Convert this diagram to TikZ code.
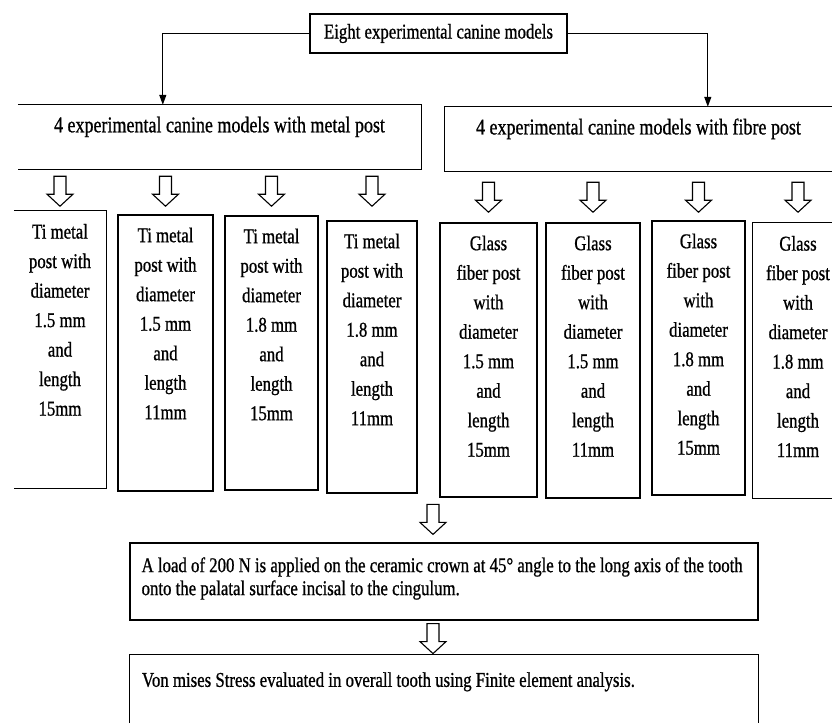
\documentclass[tikz,border=0pt]{standalone}
\usepackage{fontspec}
\setmainfont{Liberation Serif}[FakeStretch=0.8, FakeBold=0.8]
\usetikzlibrary{arrows.meta,calc}
\newcommand{\boxfont}{\fontsize{21}{29.5}\selectfont}
\newcommand{\groupfont}{\fontsize{22.5}{27}\selectfont}
\newcommand{\notefont}{\fontsize{21}{23}\selectfont}
\tikzset{
  frame/.style={draw, line width=1.2pt, inner sep=0pt},
  open/.style={inner sep=0pt},
  side/.style={line width=1.2pt},
  group/.style={open, minimum height=64, font=\groupfont, text depth=25pt},
  postlabel/.style={anchor=north, align=center, inner sep=0pt, font=\boxfont},
  link/.style={line width=1.2pt, -{Triangle[length=10pt,width=7pt]}},
  hollowdown/.pic={\path[draw, line width=1.1pt, fill=white] (-6,0) -- (6,0) -- (6,18) -- (13,18) -- (0,30) -- (-13,18) -- (-6,18) -- cycle;}
}
\begin{document}
\begin{tikzpicture}[x=1pt, y=-1pt, font=\boxfont]
\useasboundingbox (0,0) rectangle (832,723);

% models
\node[frame, minimum width=257, minimum height=39] (eight) at (438.5,33.5) {Eight experimental canine models};

% two groups
\node[group, minimum width=403] (metal) at (219.5,137) {4 experimental canine models with metal post};
\draw[side] (metal.north west) -- (metal.north east) -- (metal.south east) -- (metal.south west);
\node[group, minimum width=387] (fibre) at (638.5,139) {4 experimental canine models with fibre post};
\draw[side] (fibre.north east) -- (fibre.north west) -- (fibre.south west) -- (fibre.south east);

\draw[link] (eight.west) -| ([xshift=145]metal.north west);
\draw[link] (eight.east) -| ([xshift=263]fibre.north west);

% metal posts
\node[open, minimum width=92, minimum height=277] (m1) at (60,349.5) {};
\draw[side] (m1.north west) -- (m1.north east) -- (m1.south east) -- (m1.south west);
\node[frame, minimum width=95, minimum height=276] (m2) at (165.5,353) {};
\node[frame, minimum width=93, minimum height=274] (m3) at (271.5,353) {};
\node[frame, minimum width=90, minimum height=272] (m4) at (372,357) {};
\node[postlabel] (m1txt) at ([yshift=-13]m1.north) {Ti metal\\post with\\diameter\\1.5 mm\\and\\length\\15mm};
\node[postlabel] (m2txt) at ([yshift=-13]m2.north) {Ti metal\\post with\\diameter\\1.5 mm\\and\\length\\11mm};
\node[postlabel] (m3txt) at ([yshift=-13]m3.north) {Ti metal\\post with\\diameter\\1.8 mm\\and\\length\\15mm};
\node[postlabel] (m4txt) at ([yshift=-13]m4.north) {Ti metal\\post with\\diameter\\1.8 mm\\and\\length\\11mm};

% fibre posts
\node[frame, minimum width=97, minimum height=274] (f1) at (488.5,360) {};
\node[frame, minimum width=94, minimum height=275] (f2) at (593,360.5) {};
\node[frame, minimum width=93, minimum height=274] (f3) at (698.5,358) {};
\node[open, minimum width=79, minimum height=275] (f4) at (792.5,360.5) {};
\draw[side] (f4.north east) -- (f4.north west) -- (f4.south west) -- (f4.south east);
\node[postlabel] (f1txt) at ([yshift=-13]f1.north) {Glass\\fiber post\\with\\diameter\\1.5 mm\\and\\length\\15mm};
\node[postlabel] (f2txt) at ([yshift=-13]f2.north) {Glass\\fiber post\\with\\diameter\\1.5 mm\\and\\length\\11mm};
\node[postlabel] (f3txt) at ([yshift=-13]f3.north) {Glass\\fiber post\\with\\diameter\\1.8 mm\\and\\length\\15mm};
\node[postlabel] (f4txt) at ([xshift=5.5,yshift=-13]f4.north) {Glass\\fiber post\\with\\diameter\\1.8 mm\\and\\length\\11mm};

\foreach \p in {m1,m2,m3,m4}
  \pic at ($(\p txt.north |- metal.south)+(0,7)$) {hollowdown};
\foreach \p in {f1,f2,f3,f4}
  \pic at ($(\p txt.north |- fibre.south)+(0,11)$) {hollowdown};

% load and analysis
\node[frame, minimum width=628, minimum height=77] (load) at (444,581.5) {};
\node[anchor=west, align=left, inner sep=0pt, font=\notefont] (loadtxt) at ([xshift=12,yshift=3]load.west) {A load of 200 N is applied on the ceramic crown at 45° angle to the long axis of the tooth\\onto the palatal surface incisal to the cingulum.};
\node[open, minimum width=628, minimum height=68] (von) at (444,689) {};
\draw[side] (von.south west) -- (von.north west) -- (von.north east) -- (von.south east);
\node[anchor=west, inner sep=0pt, font=\notefont] (vontxt) at ([xshift=12,yshift=-27]von.north west) {Von mises Stress evaluated in overall tooth using Finite element analysis.};

\pic at ($(load.north)+(-11,-38)$) {hollowdown};
\pic at ($(load.south)+(-11,3)$) {hollowdown};
\end{tikzpicture}
\end{document}
